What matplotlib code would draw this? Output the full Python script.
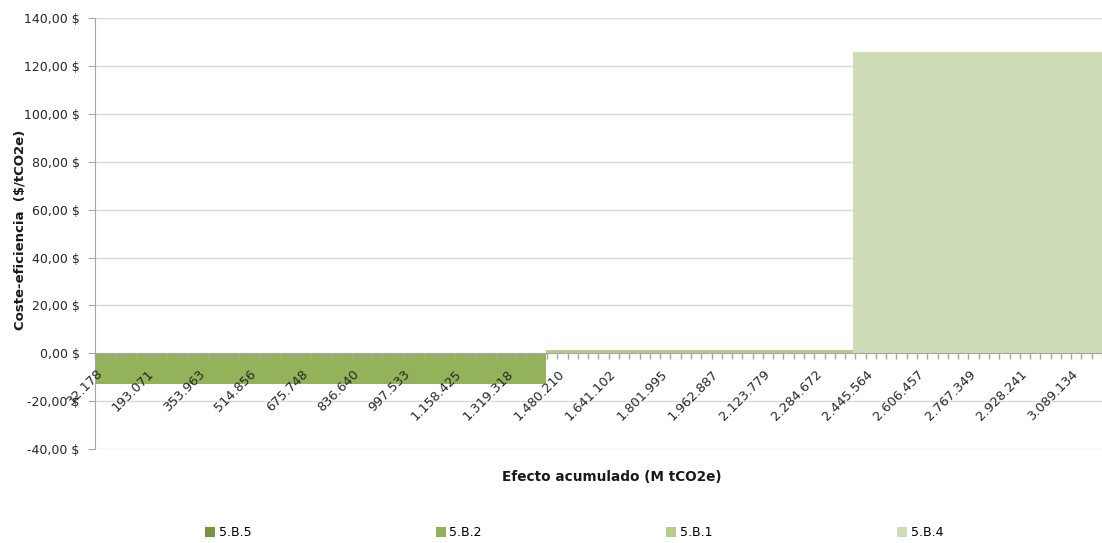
import numpy as np
import matplotlib.pyplot as plt
from matplotlib.patches import Patch

measures = ['5.B.5', '5.B.2', '5.B.1', '5.B.4']
effect = [16089, 1412311, 961300, 779900]   # tCO2e per measure
cost = [0.0, -12.7, 1.2, 125.9]             # $/tCO2e
colors = ['#77933C', '#93B25A', '#B3CD8A', '#CEDBB7']

x_labels = ['32.178', '193.071', '353.963', '514.856', '675.748', '836.640',
            '997.533', '1.158.425', '1.319.318', '1.480.210', '1.641.102',
            '1.801.995', '1.962.887', '2.123.779', '2.284.672', '2.445.564',
            '2.606.457', '2.767.349', '2.928.241', '3.089.134']
y_ticks = [-40, -20, 0, 20, 40, 60, 80, 100, 120, 140]

plt.rcParams['font.family'] = 'DejaVu Sans'

fig = plt.figure(figsize=(11.02, 5.43), dpi=100)
ax = fig.add_axes([95 / 1102, 1 - 449 / 543, 1 - 95 / 1102, (449 - 18.3) / 543])

ends = np.cumsum(effect)
starts = ends - np.array(effect)
ax.bar(starts, cost, width=effect, align='edge', color=colors, linewidth=0, zorder=2)

# gridlines under the bars
for v in y_ticks:
    if v != 0:
        ax.axhline(v, color='#D9D9D9', linewidth=1, zorder=1)
ax.set_axisbelow(False)

x_vals = np.array([int(s.replace('.', '')) for s in x_labels])
cat_step = (x_vals[-1] - x_vals[0]) / (len(x_vals) - 1) / 5
left = x_vals[0] - cat_step / 2
right = ends[-1]
ax.set_xlim(left, right)
ax.set_ylim(-40, 140)

ax.set_xticks(x_vals, x_labels)
ax.set_xticks(np.arange(left, right, cat_step), minor=True)
ax.tick_params(axis='x', which='major', length=0, pad=13.5, labelsize=9.3,
               labelcolor='#262626')
ax.tick_params(axis='x', which='minor', length=4, color='#A6A6A6', width=1)

ax.set_yticks(y_ticks, [f'{v:.2f}'.replace('.', ',') + ' $' for v in y_ticks])
ax.tick_params(axis='y', length=5, color='#A6A6A6', pad=6, labelsize=9, labelcolor='#262626')

for s in ['top', 'right']:
    ax.spines[s].set_visible(False)
ax.spines['left'].set_color('#A6A6A6')
ax.spines['bottom'].set_position(('data', 0))
ax.spines['bottom'].set_color('#A6A6A6')

ax.set_ylabel('Coste-eficiencia  ($/tCO2e)', fontsize=9.5, fontweight='bold',
              color='#1a1a1a')
ax.yaxis.set_label_coords(-0.0685, 0.508)
fig.text(612 / 1102, 1 - 477 / 543, 'Efecto acumulado (M tCO2e)', fontsize=9.8,
         fontweight='bold', color='#1a1a1a', ha='center', va='center')

handles = [Patch(facecolor=c, edgecolor='none') for c in colors]
fig.legend(handles, measures, loc='center', bbox_to_anchor=(574 / 1102, 1 - 533 / 543),
           ncol=4, frameon=False, fontsize=9, handlelength=0.8, handleheight=0.8,
           handletextpad=0.3, columnspacing=14.75)

# rotate the category labels once the ticks exist
fig.canvas.draw()
for lab in ax.get_xticklabels():
    lab.set(rotation=45, ha='right', va='center', rotation_mode='anchor')

fig.savefig('out.png', dpi=100)
